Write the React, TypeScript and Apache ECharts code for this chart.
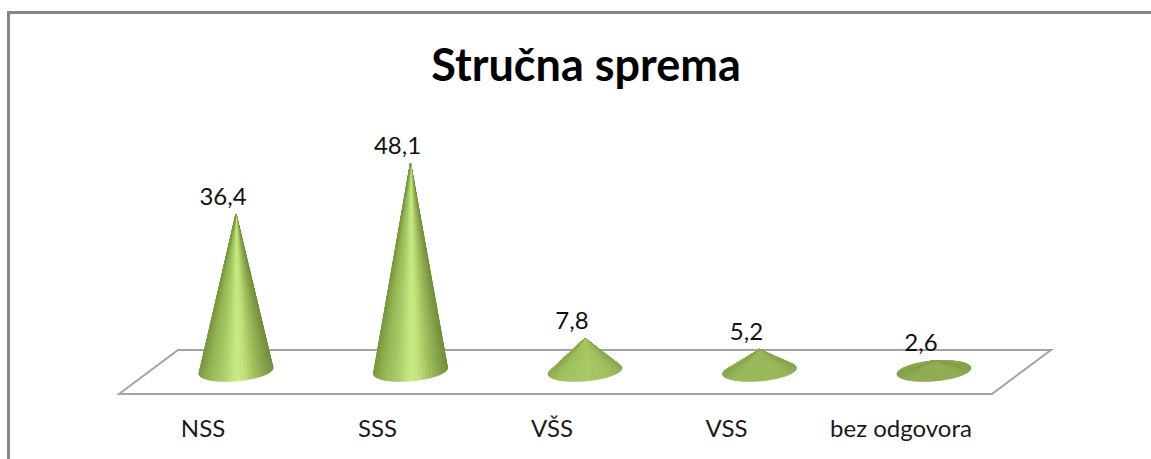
import React, { useEffect, useRef } from "react";
import * as echarts from "echarts";

const categories = ["NSS", "SSS", "VŠS", "VSS", "bez odgovora"];
const values = [36.4, 48.1, 7.8, 5.2, 2.6];
const chartTitle = "Stručna sprema";

const FONT = "Lato, Carlito, Calibri, sans-serif";
type RGB = [number, number, number];
const hex = (h: string): RGB => [1, 3, 5].map((i) => parseInt(h.slice(i, i + 2), 16)) as RGB;
const mix = (a: RGB, b: RGB, k: number): RGB => a.map((v, i) => v + (b[i] - v) * k) as RGB;
const css = (c: RGB) => `rgb(${c.map((v) => Math.round(v)).join(",")})`;
const clamp = (v: number) => Math.max(0, Math.min(1, v));

const ramp: [number, RGB][] = [
  [-1, hex("#7a9a3f")], [-0.75, hex("#94b553")], [-0.4, hex("#a8c967")], [0, hex("#c8ec82")],
  [0.2, hex("#c0e27a")], [0.5, hex("#a1bf5e")], [0.8, hex("#85a24a")], [1, hex("#728f3a")],
];
const rampAt = (t: number): RGB => {
  for (let i = 1; i < ramp.length; i++) {
    if (t <= ramp[i][0]) {
      return mix(ramp[i - 1][1], ramp[i][1], (t - ramp[i - 1][0]) / (ramp[i][0] - ramp[i - 1][0]));
    }
  }
  return ramp[ramp.length - 1][1];
};

const renderCone = (params: any, api: any) => {
  const idx = api.value(0);
  const val = api.value(1);
  const apex = api.coord([idx, val]);
  const base = api.coord([idx, 0]);
  const band = api.size([1, 0])[0];
  const rx = band * 0.212;
  const ry = 10;
  const slope = -0.08;
  const cy = base[1] - 1;
  const h = cy - apex[1];
  const N = 60;
  const pt = (a: number) => {
    const dx = rx * Math.cos(a);
    return [base[0] + dx, cy + ry * Math.sin(a) + slope * dx];
  };
  const order: number[] = [];
  for (let i = N / 2; i < N; i++) order.push(i);
  for (let i = 0; i < N / 2; i++) order.push(i);
  const flat = mix(hex("#84a14a"), hex("#a5c562"), clamp(h / 35));
  const children = order.map((i) => {
    const a0 = (i / N) * Math.PI * 2;
    const a1 = ((i + 1) / N) * Math.PI * 2;
    const t = Math.cos((a0 + a1) / 2);
    let c = mix(flat, rampAt(t), clamp((h - 20) / 100));
    if (h < 60) c = mix(c, hex("#6f8f35"), 0.45 * Math.pow(Math.abs(t), 6));
    const fill = css(c);
    return {
      type: "polygon",
      shape: { points: [[apex[0], apex[1]], pt(a0), pt(a1)] },
      style: { fill, stroke: fill, lineWidth: 0.7 },
    };
  });
  return { type: "group", children };
};

export default function App() {
  const ref = useRef<HTMLDivElement>(null);
  useEffect(() => {
    const chart = echarts.init(ref.current!, null, { renderer: "svg" });
    const floorPen = { stroke: "#a3a3a3", lineWidth: 2, fill: "#ffffff" };
    chart.setOption({
      animation: false,
      backgroundColor: "#ffffff",
      title: {
        text: chartTitle,
        left: 581,
        top: 36,
        textAlign: "center",
        textStyle: { fontFamily: FONT, fontSize: 45, fontWeight: "bold", color: "#000000" },
      },
      grid: { left: 148.75, width: 872.5, top: 155, bottom: 87 },
      xAxis: {
        type: "category",
        data: categories,
        axisLine: { show: false },
        axisTick: { show: false },
        splitLine: { show: false },
        axisLabel: {
          margin: 43,
          fontFamily: FONT,
          fontSize: 24,
          color: "#1a1a1a",
          padding: [0, 66, 0, 0],
          interval: 0,
          hideOverlap: false,
        },
      },
      yAxis: { type: "value", min: 0, max: 50, show: false },
      graphic: [
        {
          type: "polygon",
          z: 0,
          shape: { points: [[119, 394], [178, 350], [1051, 350], [992, 394]] },
          style: floorPen,
          silent: true,
        },
        {
          type: "polyline",
          z: 0,
          shape: { points: [[8.5, 459], [8.5, 12.5], [1151, 12.5]] },
          style: { stroke: "#868686", lineWidth: 3, fill: "none" },
          silent: true,
        },
      ],
      series: [
        {
          type: "custom",
          z: 3,
          coordinateSystem: "cartesian2d",
          renderItem: renderCone,
          encode: { x: 0, y: 1 },
          data: values.map((v, i) => [i, v]),
          silent: true,
        },
        {
          type: "line",
          z: 4,
          data: values,
          showSymbol: true,
          symbolSize: 0,
          lineStyle: { width: 0, opacity: 0 },
          label: {
            show: true,
            position: "top",
            distance: 7,
            offset: [-13, 0],
            fontFamily: FONT,
            fontSize: 24,
            color: "#111111",
            formatter: (p: any) => String(p.value).replace(".", ","),
          },
          silent: true,
        },
      ],
    });
    return () => chart.dispose();
  }, []);
  return (
    <div
      ref={ref}
      style={{ position: "fixed", left: 0, top: 0, width: 1151, height: 459 }}
    />
  );
}
